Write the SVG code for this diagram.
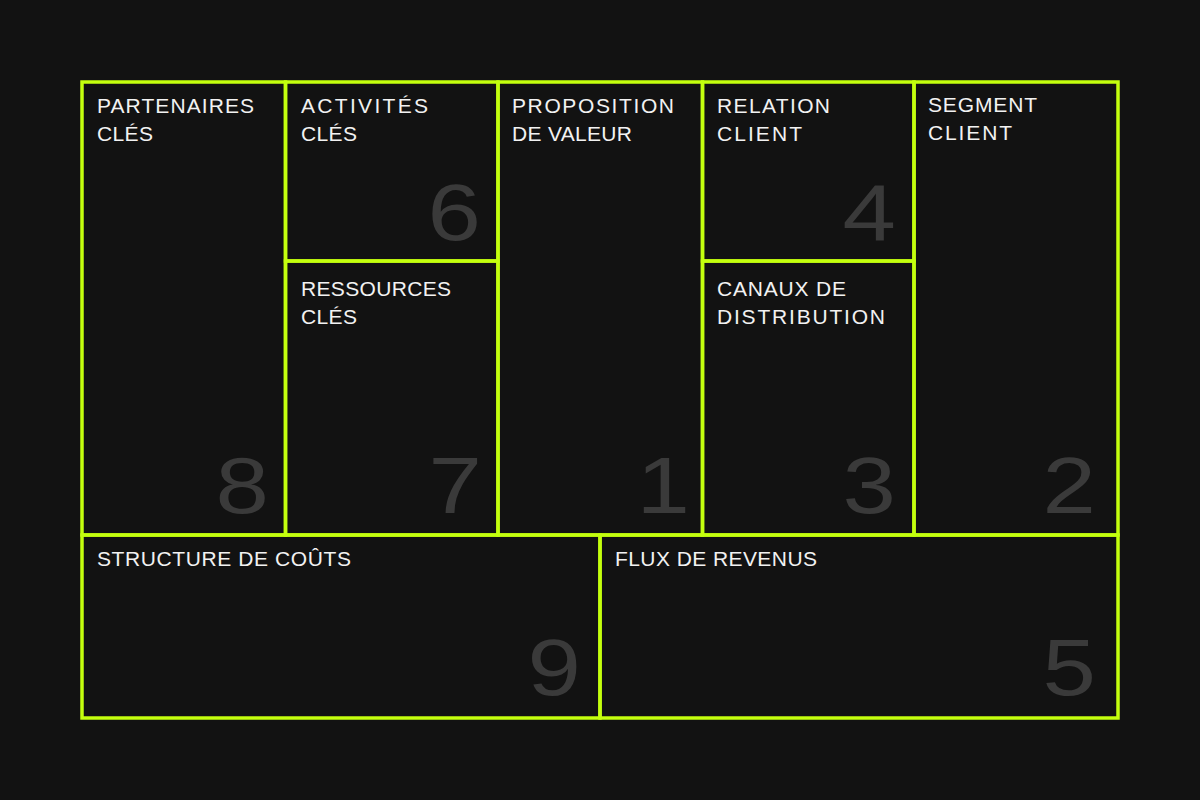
<svg xmlns="http://www.w3.org/2000/svg" width="1200" height="800" viewBox="0 0 1200 800">
  <style>
    .cell { fill: none; stroke: #c4ff0e; stroke-width: 3.5; }
    .label { font-family: "Liberation Sans", Arial, sans-serif; font-size: 21px; fill: #f2f2f2; }
    .num { font-family: "Liberation Sans", Arial, sans-serif; font-size: 80px; fill: #3a3a3a; text-anchor: end; }
  </style>
  <rect width="1200" height="800" fill="#121212"/>

  <g id="partenaires-cles">
    <rect class="cell" x="82" y="82" width="203.5" height="453"/>
    <text class="label" x="97" y="113" textLength="157" lengthAdjust="spacing">PARTENAIRES</text>
    <text class="label" x="97" y="141" textLength="56" lengthAdjust="spacing">CLÉS</text>
    <text class="num" transform="translate(269,513) scale(1.2,1)">8</text>
  </g>

  <g id="activites-cles">
    <rect class="cell" x="285.5" y="82" width="212.5" height="179"/>
    <text class="label" x="301" y="112.5" textLength="127" lengthAdjust="spacing">ACTIVITÉS</text>
    <text class="label" x="301" y="140.5" textLength="56" lengthAdjust="spacing">CLÉS</text>
    <text class="num" transform="translate(481,240) scale(1.2,1)">6</text>
  </g>

  <g id="ressources-cles">
    <rect class="cell" x="285.5" y="261" width="212.5" height="274"/>
    <text class="label" x="301" y="295.5" textLength="150" lengthAdjust="spacing">RESSOURCES</text>
    <text class="label" x="301" y="323.5" textLength="56" lengthAdjust="spacing">CLÉS</text>
    <text class="num" transform="translate(482,513) scale(1.2,1)">7</text>
  </g>

  <g id="proposition-de-valeur">
    <rect class="cell" x="498" y="82" width="204.5" height="453"/>
    <text class="label" x="512" y="113" textLength="162" lengthAdjust="spacing">PROPOSITION</text>
    <text class="label" x="512" y="141" textLength="120" lengthAdjust="spacing">DE VALEUR</text>
    <text class="num" transform="translate(690,513) scale(1.2,1)">1</text>
  </g>

  <g id="relation-client">
    <rect class="cell" x="702.5" y="82" width="211.5" height="179"/>
    <text class="label" x="717" y="112.5" textLength="113" lengthAdjust="spacing">RELATION</text>
    <text class="label" x="717" y="140.5" textLength="85" lengthAdjust="spacing">CLIENT</text>
    <text class="num" transform="translate(896,240) scale(1.2,1)">4</text>
  </g>

  <g id="canaux-de-distribution">
    <rect class="cell" x="702.5" y="261" width="211.5" height="274"/>
    <text class="label" x="717" y="295.5" textLength="129" lengthAdjust="spacing">CANAUX DE</text>
    <text class="label" x="717" y="323.5" textLength="168" lengthAdjust="spacing">DISTRIBUTION</text>
    <text class="num" transform="translate(896,513) scale(1.2,1)">3</text>
  </g>

  <g id="segment-client">
    <rect class="cell" x="914" y="82" width="204" height="453"/>
    <text class="label" x="928" y="112" textLength="109" lengthAdjust="spacing">SEGMENT</text>
    <text class="label" x="928" y="140" textLength="84" lengthAdjust="spacing">CLIENT</text>
    <text class="num" transform="translate(1096,513) scale(1.2,1)">2</text>
  </g>

  <g id="structure-de-couts">
    <rect class="cell" x="82" y="535" width="518" height="183"/>
    <text class="label" x="97" y="566" textLength="254" lengthAdjust="spacing">STRUCTURE DE COÛTS</text>
    <text class="num" transform="translate(581,695) scale(1.2,1)">9</text>
  </g>

  <g id="flux-de-revenus">
    <rect class="cell" x="600" y="535" width="518" height="183"/>
    <text class="label" x="615" y="566" textLength="202" lengthAdjust="spacing">FLUX DE REVENUS</text>
    <text class="num" transform="translate(1096,695) scale(1.2,1)">5</text>
  </g>

  <g id="connectors"></g>
</svg>
